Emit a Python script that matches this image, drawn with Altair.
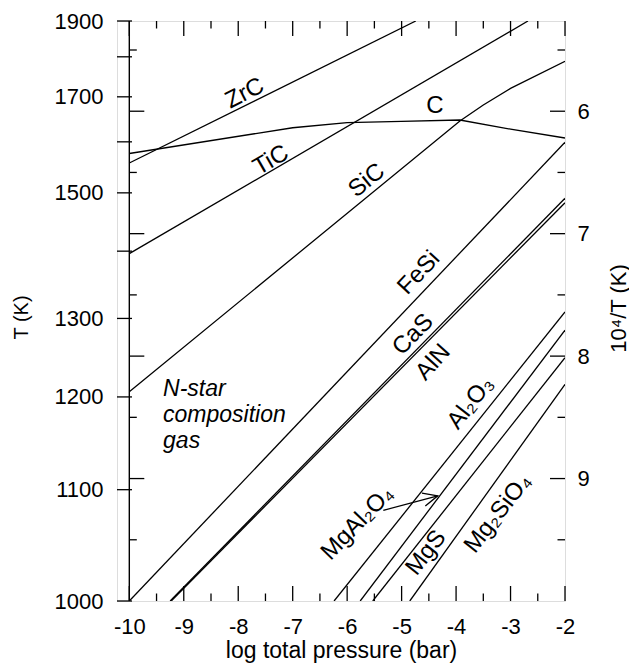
import altair as alt
import pandas as pd

FONT = "Liberation Sans"

# ---- condensation curves: x = log total pressure (bar), T = temperature (K)
zrc_x = [-10, -4.74];            zrc_T = [1557, 1900]
c_x = [-10, -7, -6, -5, -3.93, -3, -2]
c_T = [1576, 1630, 1641, 1644, 1647, 1627, 1608]
tic_x = [-10, -2.68];            tic_T = [1396, 1900]
sic_x = [-10, -3.93, -3.5, -3, -2]
sic_T = [1206, 1645, 1681, 1720, 1788]
fesi_x = [-10, -2];              fesi_T = [1000, 1599]
cas_x = [-9.25, -2];             cas_T = [1000, 1490]
aln_x = [-9.23, -2];             aln_T = [1000, 1482]
al2o3_x = [-6.24, -2];           al2o3_T = [1000, 1309]
mgal2o4_x = [-5.76, -2];         mgal2o4_T = [1000, 1284]
mgs_x = [-5.53, -2];             mgs_T = [1000, 1248]
mg2sio4_x = [-4.85, -2];         mg2sio4_T = [1000, 1215]

# ---- curve labels
label_text = ["ZrC", "TiC", "C", "SiC", "FeSi", "CaS", "AlN",
              "Al₂O₃", "MgAl₂O₄", "MgS", "Mg₂SiO₄"]
label_x = [-7.88, -7.40, -4.39, -5.64, -4.68, -4.79, -4.42, -3.73, -5.81, -4.55, -3.23]
label_T = [1708, 1562, 1678, 1523, 1366, 1278, 1242, 1193, 1068, 1041, 1077]
label_angle = [333, 330, 0, 321, 313, 314.5, 312, 308, 314, 308, 308]

note_text = ["N-star\ncomposition\ngas"]
note_x = [-9.38]
note_T = [1201]

arrow_x = [-5.336, -4.337]
arrow_T = [1080, 1094]

# ---- ticks
x_major = [-10, -9, -8, -7, -6, -5, -4, -3, -2]
x_minor = [-9.5, -8.5, -7.5, -6.5, -5.5, -4.5, -3.5, -2.5]
u_major = [6, 7, 8, 9]
u_minor = [5.5, 6.5, 7.5, 8.5, 9.5]
T_ticks = [1000, 1100, 1200, 1300, 1400, 1500, 1600, 1700, 1800, 1900]
T_labels = [1000, 1100, 1200, 1300, 1500, 1700, 1900]

# ---- build tables
curves = [("ZrC", zrc_x, zrc_T), ("C", c_x, c_T), ("TiC", tic_x, tic_T),
          ("SiC", sic_x, sic_T), ("FeSi", fesi_x, fesi_T), ("CaS", cas_x, cas_T),
          ("AlN", aln_x, aln_T), ("Al2O3", al2o3_x, al2o3_T),
          ("MgAl2O4", mgal2o4_x, mgal2o4_T), ("MgS", mgs_x, mgs_T),
          ("Mg2SiO4", mg2sio4_x, mg2sio4_T)]
rows = []
for name, xs_, Ts_ in curves:
    for i, (a, b) in enumerate(zip(xs_, Ts_)):
        rows.append({"name": name, "i": i, "x": a, "u": 1e4 / b})
df = pd.DataFrame(rows)

lab_df = pd.DataFrame({"text": label_text, "x": label_x,
                       "u": [1e4 / t for t in label_T], "angle": label_angle})
note_df = pd.DataFrame({"text": note_text, "x": note_x, "u": [1e4 / t for t in note_T]})
arrow_df = pd.DataFrame({"x": arrow_x, "u": [1e4 / t for t in arrow_T], "i": [0, 1]})

W, H = 448, 580
XMIN, XMAX = -10.226, -2
UMIN, UMAX = 1e4 / 1900, 1e4 / 1000
xs = alt.Scale(domain=[XMIN, XMAX], nice=False, zero=False)
ys = alt.Scale(domain=[UMIN, UMAX], nice=False, zero=False, reverse=True)
x_inner = (-10 - XMIN) / (XMAX - XMIN) * W

LW = 1.3
TL, TS = 15, 7.5

x_axis = alt.Axis(orient="bottom", values=x_major, labelExpr="'' + datum.value", ticks=False,
                  tickSize=0, domain=False, grid=False, labelFontSize=22, labelPadding=15,
                  labelColor="black", labelFlush=False, labelOverlap=False,
                  title="log total pressure (bar)", titleFontSize=23,
                  titleFontWeight="normal", titleColor="black", titleY=56,
                  titleBaseline="alphabetic")
left_axis = alt.Axis(orient="left", values=[1e4 / t for t in T_labels],
                     labelExpr="format(10000 / datum.value, '.0f')", ticks=False,
                     tickSize=0, domain=False, grid=False, labelFontSize=22,
                     labelPadding=14, labelColor="black", labelFlush=False,
                     labelOverlap=False, title="T (K)", titleFontSize=20,
                     titleFontWeight="normal", titleColor="black", titleAngle=270,
                     titleX=-96, titleY=296, titleAlign="center", titleBaseline="middle")
right_axis = alt.Axis(orient="right", values=u_major, ticks=False, tickSize=0,
                      domain=False, grid=False, labelFontSize=22, labelPadding=12,
                      labelColor="black", labelFlush=False, labelOverlap=False,
                      title="10⁴/T (K)", titleFontSize=22, titleFontWeight="normal",
                      titleColor="black", titleAngle=270, titleX=53, titleY=287,
                      titleAlign="center", titleBaseline="middle")

lines = alt.Chart(df).mark_line(color="black", strokeWidth=LW, clip=True).encode(
    x=alt.X("x:Q", scale=xs, axis=x_axis),
    y=alt.Y("u:Q", scale=ys, axis=left_axis),
    detail="name:N",
    order="i:Q",
)

def xticks(vals, y0, y1):
    return alt.Chart(pd.DataFrame({"x": vals})).mark_rule(color="black", strokeWidth=1.3).encode(
        x=alt.X("x:Q", scale=xs, axis=None), y=alt.value(y0), y2=alt.value(y1))

def uticks(vals, x0, x1, axis=None):
    return alt.Chart(pd.DataFrame({"u": vals})).mark_rule(color="black", strokeWidth=1.3).encode(
        y=alt.Y("u:Q", scale=ys, axis=axis), x=alt.value(x0), x2=alt.value(x1))

right_long = uticks(u_major, W - TL, W, right_axis)
layers = [
    lines,
    right_long,
    uticks(u_minor, W - TS, W),
    uticks(u_major, x_inner, x_inner + TL),
    uticks(u_minor, x_inner, x_inner + TS),
    uticks([1e4 / t for t in T_ticks], 0, TL),
    xticks(x_major, H - TL, H),
    xticks(x_minor, H - TS, H),
    xticks(x_major, 0, TL),
    xticks(x_minor, 0, TS),
]

inner_line = alt.Chart(pd.DataFrame({"x": [-10]})).mark_rule(color="black", strokeWidth=1.4).encode(
    x=alt.X("x:Q", scale=xs, axis=None))

labels = alt.Chart(lab_df).mark_text(font=FONT, fontSize=24, color="black",
                                      align="center", baseline="middle").encode(
    x=alt.X("x:Q", scale=xs, axis=None), y=alt.Y("u:Q", scale=ys, axis=None),
    text="text:N", angle=alt.Angle("angle:Q", scale=None))

note = alt.Chart(note_df).mark_text(font=FONT, fontSize=23, fontStyle="italic", color="black",
                                     align="left", baseline="alphabetic", lineBreak="\n",
                                     lineHeight=26).encode(
    x=alt.X("x:Q", scale=xs, axis=None), y=alt.Y("u:Q", scale=ys, axis=None), text="text:N")

arrow_shaft = alt.Chart(arrow_df).mark_line(color="black", strokeWidth=LW).encode(
    x=alt.X("x:Q", scale=xs, axis=None), y=alt.Y("u:Q", scale=ys, axis=None), order="i:Q")
arrow_head = alt.Chart(arrow_df.iloc[[1]]).mark_point(
    shape="M-1,-0.45L0,0L-1,0.45", size=850, filled=False, stroke="black",
    strokeWidth=LW, angle=345, opacity=1).encode(
    x=alt.X("x:Q", scale=xs, axis=None), y=alt.Y("u:Q", scale=ys, axis=None))

chart = alt.layer(*layers, inner_line, labels, note, arrow_shaft, arrow_head).resolve_axis(
    x="independent", y="independent"
).properties(
    width=W, height=H,
    autosize=alt.AutoSizeParams(type="none"),
    padding={"left": 117, "top": 21, "right": 64, "bottom": 62},
).configure_view(stroke="black", strokeWidth=1.5).configure(font=FONT, background="white")

chart.save("out.html", embed_options={"renderer": "svg", "actions": False})
